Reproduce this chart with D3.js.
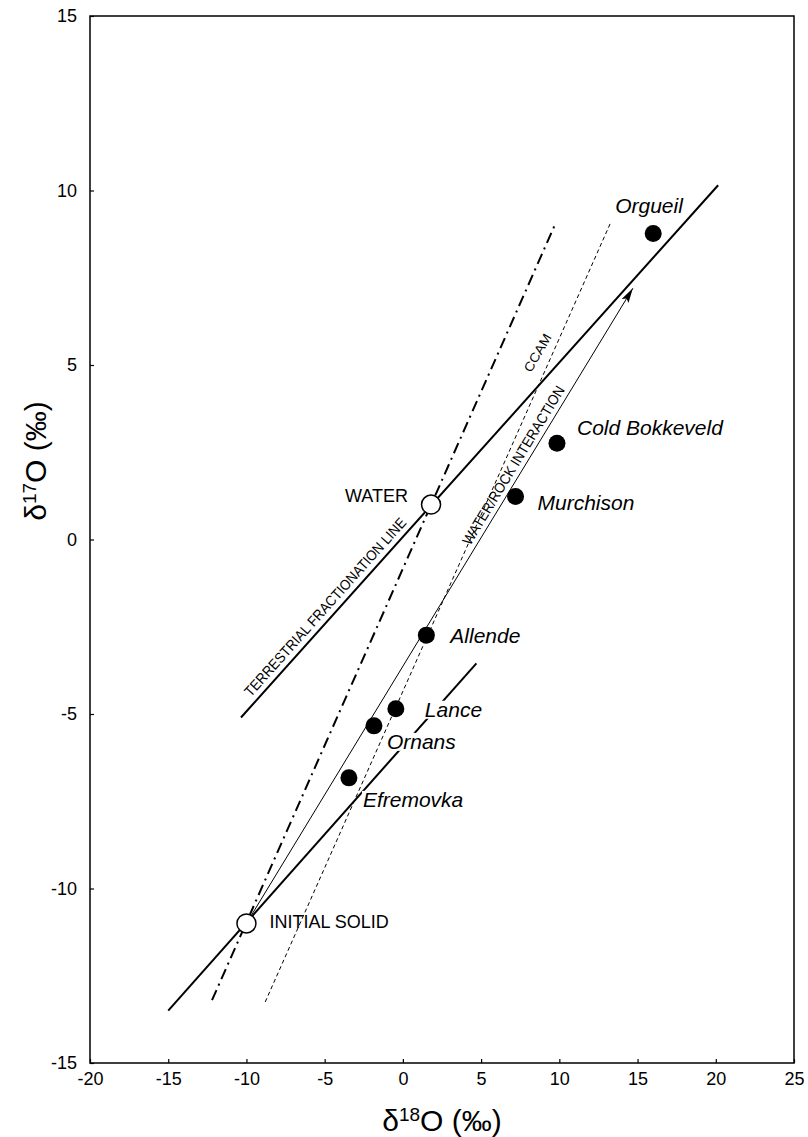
<!DOCTYPE html>
<html>
<head>
<meta charset="utf-8">
<script src="https://cdn.jsdelivr.net/npm/d3@7"></script>
<style>
  body { margin: 0; background: #fff; }
  svg { display: block; font-family: "Liberation Sans", Arial, Helvetica, sans-serif; }
</style>
</head>
<body>
<svg id="chart" width="808" height="1137"></svg>
<script>
// axis setup
const xTicks = [-20, -15, -10, -5, 0, 5, 10, 15, 20, 25];
const yTicks = [-15, -10, -5, 0, 5, 10, 15];

// meteorite samples (filled dots)
const samples = ["Orgueil", "Cold Bokkeveld", "Murchison", "Allende", "Lance", "Ornans", "Efremovka"];
const sampleD18O = [16.0, 9.85, 7.2, 1.5, -0.45, -1.85, -3.45];
const sampleD17O = [8.77, 2.76, 1.23, -2.74, -4.85, -5.34, -6.83];
// label offsets in px from the dot (left x, baseline)
const sampleLabelDx = [-38, 20, 22, 24, 29, 13, 14];
const sampleLabelDy = [-20, -8, 13, 8, 8, 23, 29];

// end members (open circles)
const endMembers = ["WATER", "INITIAL SOLID"];
const endD18O = [1.8, -10];
const endD17O = [1.0, -11];

// reference lines, [x0, x1] and [y0, y1]
const tflUpperX = [-10.35, 20.15], tflUpperY = [-5.1, 10.15];
const tflLowerX = [-15, 4.7], tflLowerY = [-13.5, -3.55];
const slopeOneX = [-12.2, 9.75], slopeOneY = [-13.2, 9.05];
const ccamX = [-8.8, 13.25], ccamY = [-13.25, 9.05];
const waterRockX = [-10, 14.7], waterRockY = [-11, 7.2];

const svg = d3.select("#chart");
const mLeft = 90, mRight = 794, mTop = 16, mBottom = 1063;

const x = d3.scaleLinear().domain([-20, 25]).range([mLeft, mRight]);
const y = d3.scaleLinear().domain([-15, 15]).range([mBottom, mTop]);

// frame
svg.append("rect")
    .attr("x", mLeft).attr("y", mTop)
    .attr("width", mRight - mLeft).attr("height", mBottom - mTop)
    .attr("fill", "none").attr("stroke", "#000").attr("stroke-width", 1.5);

// axes with inward ticks, plain hyphen for minus
const fmt = d => String(d);
const xAxis = svg.append("g")
    .attr("transform", `translate(0,${mBottom})`)
    .call(d3.axisBottom(x).tickValues(xTicks).tickSize(-4).tickSizeOuter(0).tickPadding(9).tickFormat(fmt));
const yAxis = svg.append("g")
    .attr("transform", `translate(${mLeft},0)`)
    .call(d3.axisLeft(y).tickValues(yTicks).tickSize(-4).tickSizeOuter(0).tickPadding(13).tickFormat(fmt));

[xAxis, yAxis].forEach(a => {
    a.select(".domain").remove();
    a.selectAll("line").attr("stroke", "#000").attr("stroke-width", 1.2);
    a.selectAll("text")
        .attr("fill", "#000")
        .style("font-family", "Liberation Sans, Arial, sans-serif")
        .style("font-size", "18px");
});

// axis titles
svg.append("text")
    .attr("x", (mLeft + mRight) / 2)
    .attr("y", 1131)
    .attr("text-anchor", "middle")
    .style("font-size", "30px")
    .html('δ<tspan baseline-shift="super" font-size="19px">18</tspan>O (‰)');

svg.append("text")
    .attr("transform", "translate(46,461) rotate(-90)")
    .attr("text-anchor", "middle")
    .style("font-size", "30px")
    .html('δ<tspan baseline-shift="super" font-size="19px">17</tspan>O (‰)');

const plot = svg.append("g");

function segment(xs, ys, width, dash) {
    plot.append("line")
        .attr("x1", x(xs[0])).attr("y1", y(ys[0]))
        .attr("x2", x(xs[1])).attr("y2", y(ys[1]))
        .attr("stroke", "#000")
        .attr("stroke-width", width)
        .attr("stroke-dasharray", dash || null);
}

segment(tflUpperX, tflUpperY, 2);
segment(tflLowerX, tflLowerY, 2);
segment(slopeOneX, slopeOneY, 2, "11,5,2,5");
segment(ccamX, ccamY, 1, "4,3");
segment(waterRockX, waterRockY, 1);

// arrow head on the water/rock interaction line
{
    const x0 = x(waterRockX[0]), y0 = y(waterRockY[0]);
    const x1 = x(waterRockX[1]), y1 = y(waterRockY[1]);
    const a = Math.atan2(y1 - y0, x1 - x0);
    const len = 15, half = 4;
    const bx = x1 - len * Math.cos(a), by = y1 - len * Math.sin(a);
    const nx = -Math.sin(a), ny = Math.cos(a);
    const ix = bx + 3 * Math.cos(a), iy = by + 3 * Math.sin(a);
    plot.append("path")
        .attr("d", `M${x1},${y1}L${bx + half * nx},${by + half * ny}L${ix},${iy}L${bx - half * nx},${by - half * ny}Z`)
        .attr("fill", "#000");
}

// text along a line
function alongLabel(xs, ys, t, off, text, size, len) {
    const x0 = x(xs[0]), y0 = y(ys[0]), x1 = x(xs[1]), y1 = y(ys[1]);
    const ang = Math.atan2(y1 - y0, x1 - x0) * 180 / Math.PI;
    const px = x0 + t * (x1 - x0), py = y0 + t * (y1 - y0);
    plot.append("text")
        .attr("transform", `translate(${px},${py}) rotate(${ang})`)
        .attr("dy", -off)
        .attr("textLength", len)
        .attr("lengthAdjust", "spacingAndGlyphs")
        .style("font-size", size + "px")
        .text(text);
}

alongLabel(tflUpperX, tflUpperY, 0.03, 6, "TERRESTRIAL FRACTIONATION LINE", 14.5, 234);
alongLabel(waterRockX, waterRockY, 0.59, 5, "WATER/ROCK INTERACTION", 14.5, 183);

// CCAM label
plot.append("text")
    .attr("transform", `translate(${x(8.6)},${y(5.35)}) rotate(-60)`)
    .attr("text-anchor", "middle")
    .attr("dy", "0.35em")
    .attr("textLength", 42)
    .attr("lengthAdjust", "spacingAndGlyphs")
    .style("font-size", "13px")
    .text("CCAM");

// sample dots and labels
const sampleData = samples.map((name, i) => ({
    name, dx: sampleD18O[i], dy: sampleD17O[i], lx: sampleLabelDx[i], ly: sampleLabelDy[i]
}));

const labelG = plot.selectAll("g.sample-label")
    .data(sampleData)
    .join("g")
    .attr("class", "sample-label");

labelG.append("text")
    .attr("x", d => x(d.dx) + d.lx)
    .attr("y", d => y(d.dy) + d.ly)
    .style("font-size", "21px")
    .style("font-style", "italic")
    .text(d => d.name);

// white box behind each label so lines break around it
labelG.each(function () {
    const g = d3.select(this);
    const bb = g.select("text").node().getBBox();
    g.insert("rect", "text")
        .attr("x", bb.x - 1).attr("y", bb.y + 3)
        .attr("width", bb.width + 2).attr("height", bb.height - 5)
        .attr("fill", "#fff");
});

plot.selectAll("circle.sample")
    .data(sampleData)
    .join("circle")
    .attr("class", "sample")
    .attr("cx", d => x(d.dx))
    .attr("cy", d => y(d.dy))
    .attr("r", 8.5)
    .attr("fill", "#000");

// end members
const endData = endMembers.map((name, i) => ({ name, dx: endD18O[i], dy: endD17O[i] }));

plot.selectAll("circle.end")
    .data(endData)
    .join("circle")
    .attr("class", "end")
    .attr("cx", d => x(d.dx))
    .attr("cy", d => y(d.dy))
    .attr("r", 9.5)
    .attr("fill", "#fff")
    .attr("stroke", "#000")
    .attr("stroke-width", 1.5);

plot.selectAll("text.end")
    .data(endData)
    .join("text")
    .attr("class", "end")
    .attr("x", d => d.name === "WATER" ? x(d.dx) - 23 : x(d.dx) + 23)
    .attr("y", d => d.name === "WATER" ? y(d.dy) - 3 : y(d.dy) + 5)
    .attr("text-anchor", d => d.name === "WATER" ? "end" : "start")
    .style("font-size", "18px")
    .text(d => d.name);
</script>
</body>
</html>
